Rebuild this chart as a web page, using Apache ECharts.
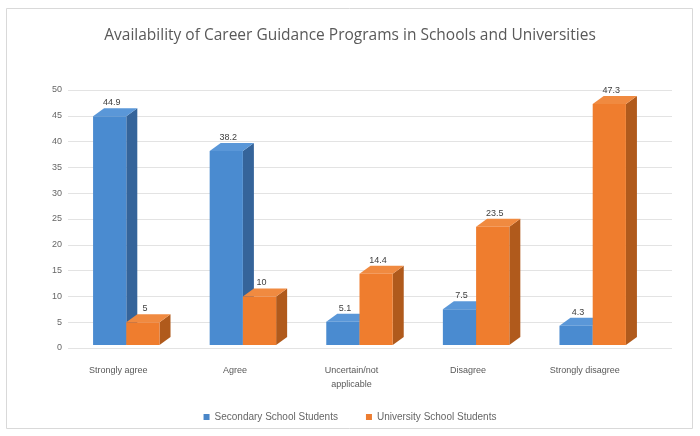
<!DOCTYPE html>
<html><head><meta charset="utf-8">
<script src="https://cdn.jsdelivr.net/npm/echarts@6/dist/echarts.min.js"></script>
<style>html,body{margin:0;padding:0;background:#fff}#c{width:700px;height:436px}</style>
</head><body><div id="c"></div>
<script>
const categories = ['Strongly agree', 'Agree', 'Uncertain/not\napplicable', 'Disagree', 'Strongly disagree'];
const secondary = [44.9, 38.2, 5.1, 7.5, 4.3];
const university = [5, 10.0, 14.4, 23.5, 47.3];
const secondaryLabels = ['44.9', '38.2', '5.1', '7.5', '4.3'];
const universityLabels = ['5', '10', '14.4', '23.5', '47.3'];
const yTicks = [0, 5, 10, 15, 20, 25, 30, 35, 40, 45, 50];

const chart = echarts.init(document.getElementById('c'));

function make3D(side, front, dark, top, labels) {
  return function (params, api) {
    const idx = api.value(0);
    const val = api.value(1);
    const band = api.size([1, 0])[0];
    const w = band * 0.285;
    const p = api.coord([idx, val]);
    const base = api.coord([idx, 0]);
    const x0 = side < 0 ? p[0] - w : p[0];
    const x1 = x0 + w;
    const yTop = p[1];
    const yBot = base[1] - 3;
    const dx = 11, dy = 8;
    return {
      type: 'group',
      children: [
        { type: 'polygon', shape: { points: [[x1, yTop], [x1 + dx, yTop - dy], [x1 + dx, yBot - dy], [x1, yBot]] }, style: { fill: dark } },
        { type: 'polygon', shape: { points: [[x0, yTop], [x0 + dx, yTop - dy], [x1 + dx, yTop - dy], [x1, yTop]] }, style: { fill: top } },
        { type: 'rect', shape: { x: x0, y: yTop, width: w, height: yBot - yTop }, style: { fill: front } },
        { type: 'text', x: x0 + w / 2 + 2, y: yTop - dy - 1, style: { text: labels[idx], fill: '#404040', font: '9px "Liberation Sans", sans-serif', align: 'center', verticalAlign: 'bottom' } }
      ]
    };
  };
}

const secData = secondary.map((v, i) => [i, v]);
const uniData = university.map((v, i) => [i, v]);

chart.setOption({
  animation: false,
  backgroundColor: '#fff',
  title: {
    text: 'Availability of Career Guidance Programs in Schools and Universities',
    left: 'center', top: 23,
    textStyle: { fontSize: 15.5, fontWeight: 'normal', color: '#595959', fontFamily: '"Open Sans", sans-serif' }
  },
  legend: {
    bottom: 9, left: 'center',
    itemWidth: 6, itemHeight: 6, itemGap: 28,
    textStyle: { fontSize: 10, color: '#666' },
    data: [
      { name: 'Secondary School Students', icon: 'rect', itemStyle: { color: '#4a86c8' } },
      { name: 'University School Students', icon: 'rect', itemStyle: { color: '#ed7d31' } }
    ]
  },
  graphic: [{ type: 'rect', shape: { x: 6.5, y: 8.5, width: 686, height: 420 }, style: { fill: 'none', stroke: '#d9d9d9', lineWidth: 1 } }],
  grid: [
    { left: 68, right: 49, top: 90, bottom: 88 },
    { left: 68, right: 28, top: 90, bottom: 88 }
  ],
  xAxis: [
    { type: 'category', data: categories, gridIndex: 0,
      axisLine: { show: false }, axisTick: { show: false },
      axisLabel: { color: '#595959', fontSize: 9, margin: 16, interval: 0, lineHeight: 14, padding: [0, 16, 0, 0] } },
    { type: 'value', gridIndex: 1, show: false, min: 0, max: 1 }
  ],
  yAxis: [
    { type: 'value', gridIndex: 0, min: 0, max: 50, interval: 5,
      axisLine: { show: false }, axisTick: { show: false },
      axisLabel: { color: '#666', fontSize: 9, margin: 6, formatter: v => yTicks.includes(v) ? String(v) : '' },
      splitLine: { show: false } },
    { type: 'value', gridIndex: 1, min: 0, max: 50, interval: 5,
      axisLine: { show: false }, axisTick: { show: false }, axisLabel: { show: false },
      splitLine: { lineStyle: { color: '#e3e3e3', width: 1 } } }
  ],
  series: [
    { name: 'Secondary School Students', type: 'custom', data: secData, itemStyle: { color: '#4a86c8' }, xAxisIndex: 0, yAxisIndex: 0,
      encode: { x: 0, y: 1 }, renderItem: make3D(-1, '#4a8bd0', '#35649a', '#5a97d8', secondaryLabels) },
    { name: 'University School Students', type: 'custom', data: uniData, itemStyle: { color: '#ed7d31' }, xAxisIndex: 0, yAxisIndex: 0,
      encode: { x: 0, y: 1 }, renderItem: make3D(1, '#ef7d2e', '#b05a1c', '#f08a40', universityLabels) }
  ]
});
</script></body></html>
